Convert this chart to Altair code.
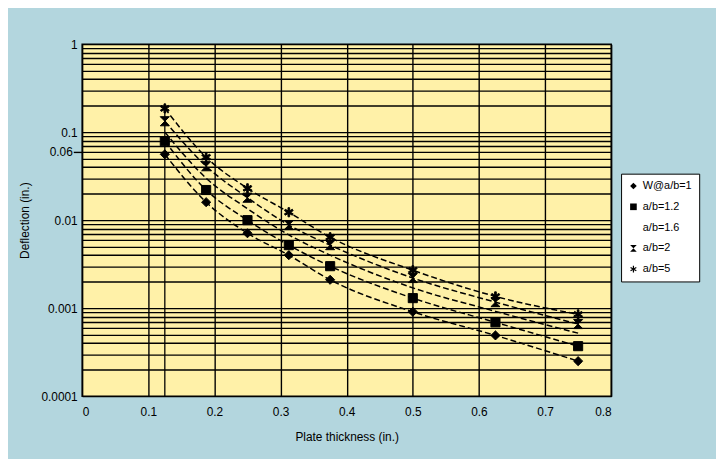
import math
import altair as alt
import pandas as pd

# ---- data ----
thickness = [0.125, 0.1875, 0.25, 0.3125, 0.375, 0.5, 0.625, 0.75]
series_names = ["W@a/b=1", "a/b=1.2", "a/b=1.6", "a/b=2", "a/b=5"]
defl_ab1 = [0.056, 0.016, 0.0071, 0.0040, 0.0021, 0.00091, 0.00049, 0.00025]
defl_ab12 = [0.079, 0.022, 0.010, 0.0052, 0.0030, 0.0013, 0.00069, 0.00037]
defl_ab16 = [0.100, 0.030, 0.0135, 0.0068, 0.0040, 0.0017, 0.00092, 0.00052]
defl_ab2 = [0.133, 0.041, 0.018, 0.0088, 0.0052, 0.0022, 0.00117, 0.00066]
defl_ab5 = [0.186, 0.052, 0.023, 0.0123, 0.0064, 0.0027, 0.00136, 0.00085]
series_values = [defl_ab1, defl_ab12, defl_ab16, defl_ab2, defl_ab5]
marker_series = ["W@a/b=1", "a/b=1.2", "a/b=2", "a/b=5"]

x_ticks = [0, 0.1, 0.2, 0.3, 0.4, 0.5, 0.6, 0.7, 0.8]
y_labels = [1, 0.1, 0.06, 0.01, 0.001, 0.0001]
y_grid = [round(m * 10 ** k, 10) for k in range(-4, 0) for m in range(1, 10)] + [1]


def star_path(half_width=0.18):
    parts = []
    for ang in (0, 60, -60):
        a = math.radians(ang)
        ca, sa = math.cos(a), math.sin(a)
        pts = [(-half_width, -1), (half_width, -1), (half_width, 1), (-half_width, 1)]
        rot = [(x * ca - y * sa, x * sa + y * ca) for x, y in pts]
        parts.append("M" + "L".join(f"{x:.3f},{y:.3f}" for x, y in rot) + "Z")
    return "".join(parts)


shape_range = [
    "diamond",
    "square",
    "M0,0",
    "M-1,-1L1,-1L-1,1L1,1Z",
    star_path(),
]

rows = []
for name, vals in zip(series_names, series_values):
    for t, v in zip(thickness, vals):
        rows.append({"thickness": t, "deflection": v, "series": name})
df = pd.DataFrame(rows)
df_points = df[df["series"].isin(marker_series)]
df_drop = pd.DataFrame({"thickness": [thickness[0]], "top": [defl_ab5[0]], "bottom": [y_labels[-1]]})

x_enc = alt.X(
    "thickness:Q",
    scale=alt.Scale(domain=[0, 0.8], nice=False),
    axis=alt.Axis(
        values=x_ticks,
        format="~g",
        title="Plate thickness (in.)",
        grid=True,
        ticks=False,
        domain=False,
        labelPadding=11,
        titlePadding=14,
    ),
)
y_scale = alt.Scale(type="log", domain=[0.0001, 1], nice=False)
label_list = "[" + ",".join(str(v) for v in y_labels) + "]"
y_enc = alt.Y(
    "deflection:Q",
    scale=y_scale,
    axis=alt.Axis(
        values=y_grid,
        title="Deflection (in.)",
        grid=True,
        domain=False,
        tickSize=9,
        tickOpacity={"condition": {"test": "datum.value == 0.06", "value": 1}, "value": 0},
        labelPadding={"condition": {"test": "datum.value == 0.06", "value": 1}, "value": -4},
        labelExpr="indexof(" + label_list + ", datum.value) >= 0 ? toString(datum.value) : ''",
        titlePadding=10,
    ),
)

lines = alt.Chart(df).mark_line(
    color="black", strokeWidth=1.5, strokeDash=[6, 3], interpolate="monotone"
).encode(x=x_enc, y=y_enc, detail="series:N")

drop = alt.Chart(df_drop).mark_rule(color="black", strokeWidth=1.3).encode(
    x="thickness:Q", y=alt.Y("top:Q", scale=y_scale), y2="bottom:Q"
)

points = alt.Chart(df_points).mark_point(
    filled=True, fill="black", stroke="black", strokeWidth=1, opacity=1, size=85
).encode(
    x="thickness:Q",
    y=alt.Y("deflection:Q", scale=y_scale),
    shape=alt.Shape(
        "series:N",
        scale=alt.Scale(domain=series_names, range=shape_range),
        legend=alt.Legend(
            title=None,
            orient="none",
            legendX=545,
            legendY=131,
            fillColor="white",
            strokeColor="black",
            padding=7,
            rowPadding=9,
            labelFontSize=11,
            labelFont="Liberation Sans",
            labelColor="black",
            symbolSize=45,
            symbolFillColor="black",
            symbolStrokeColor="black",
            symbolStrokeWidth=1,
            symbolOpacity=1,
            labelOffset=4,
        ),
    ),
)

chart = (
    alt.layer(lines, drop, points)
    .properties(
        width=535,
        height=356,
        autosize=alt.AutoSizeParams(type="none"),
        padding={"left": 75, "top": 34, "right": 106, "bottom": 61},
        background="#b3d6de",
    )
    .configure_view(fill="#fff1a8", stroke="black", strokeWidth=1.5)
    .configure_axis(
        gridColor="black",
        gridWidth=1.4,
        gridOpacity=1,
        tickColor="black",
        tickWidth=1.4,
        labelFont="Liberation Sans",
        labelFontSize=12,
        labelColor="black",
        titleFont="Liberation Sans",
        titleFontSize=12,
        titleFontWeight="normal",
        titleColor="black",
    )
)

chart.save("out.html", embed_options={"renderer": "svg", "actions": False})
